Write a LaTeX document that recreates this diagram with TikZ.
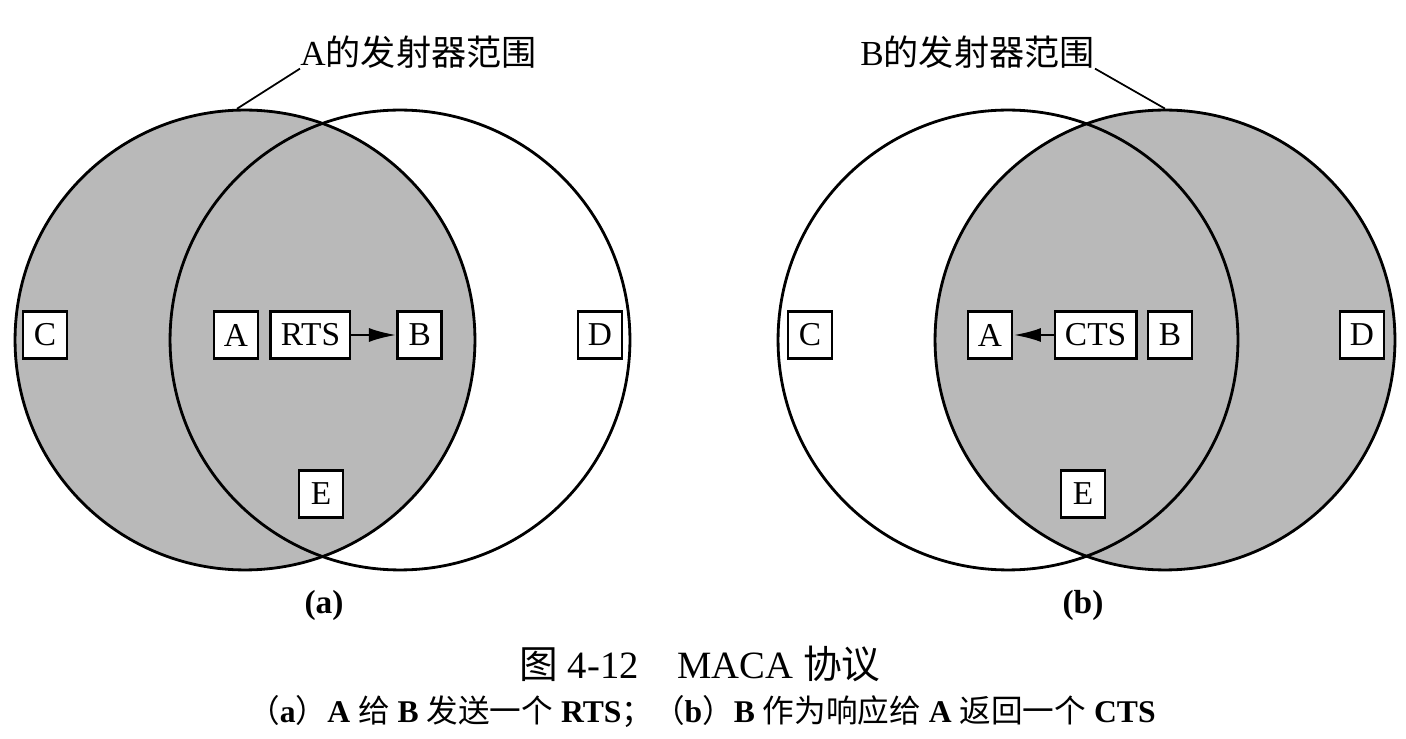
\documentclass[tikz,border=0pt]{standalone}
\usepackage{fontspec}
\setmainfont{Liberation Serif}
\newfontfamily\cjk{Noto Sans CJK SC}
\usepackage{tikz}
\usetikzlibrary{positioning, arrows.meta}

\begin{document}
\begin{tikzpicture}[
    x=0.02cm, y=-0.02cm,
    txrange/.style={circle, draw, line width=1.6pt, minimum size=9.2cm, inner sep=0pt},
    shaded/.style={txrange, fill=gray!55},
    station/.style={rectangle, draw, line width=1.6pt, fill=white, minimum width=0.88cm, minimum height=0.94cm, inner sep=0.2cm, font=\fontsize{19}{22}\selectfont},
    arrow/.style={-{Latex[length=0.55cm, width=0.28cm]}, line width=1.6pt},
    rangelabel/.style={font=\fontsize{20}{24}\selectfont, inner sep=0pt}
]
    \useasboundingbox (0,0) rectangle (1406,739);

    % (a) A 发送 RTS
    \node [shaded] (rangeA) at (245,340) {};
    \node [txrange] (rangeD) at (400,340) {};
    \node [rangelabel, anchor=west] (labelA) at (300,52) {A{\cjk 的发射器范围}};
    \draw [line width=1pt] (labelA.south west) -- (rangeA.92);

    \node [station] (a-C) at (45,335) {C};
    \node [station] (a-A) at (236,335) {A};
    \node [station, right=0.2cm of a-A] (a-RTS) {RTS};
    \node [station, right=0.9cm of a-RTS] (a-B) {B};
    \node [station] (a-D) at (600,335) {D};
    \node [station] (a-E) at (321,494) {E};
    \draw [arrow] (a-RTS) -- (a-B);

    % (b) B 回送 CTS
    \node [shaded] (rangeB) at (1165,340) {};
    \node [txrange] (rangeC) at (1008,340) {};
    \node [rangelabel, anchor=east] (labelB) at (1095,52) {B{\cjk 的发射器范围}};
    \draw [line width=1pt] (labelB.south east) -- (rangeB.north);

    \node [station] (b-C) at (810,335) {C};
    \node [station] (b-B) at (1170,335) {B};
    \node [station, left=0.18cm of b-B] (b-CTS) {CTS};
    \node [station] (b-A) at (990,335) {A};
    \node [station] (b-D) at (1362,335) {D};
    \node [station] (b-E) at (1083,494) {E};
    \draw [arrow] (b-CTS) -- (b-A);

    % 图注
    \node [font=\fontsize{19}{22}\selectfont\bfseries] (capA) at (324,605) {(a)};
    \node [font=\fontsize{19}{22}\selectfont\bfseries] (capB) at (1083,605) {(b)};
    \node [font=\fontsize{22}{26}\selectfont] (title) at (700,664) {{\cjk 图} 4-12\quad MACA {\cjk 协议}};
    \node [font=\fontsize{18}{22}\selectfont\bfseries] (subtitle) at (702,712)
        {{\cjk\mdseries （}a{\cjk\mdseries ）}A {\cjk\mdseries 给} B {\cjk\mdseries 发送一个} RTS{\cjk\mdseries ；（}b{\cjk\mdseries ）}B {\cjk\mdseries 作为响应给} A {\cjk\mdseries 返回一个} CTS};
\end{tikzpicture}
\end{document}
